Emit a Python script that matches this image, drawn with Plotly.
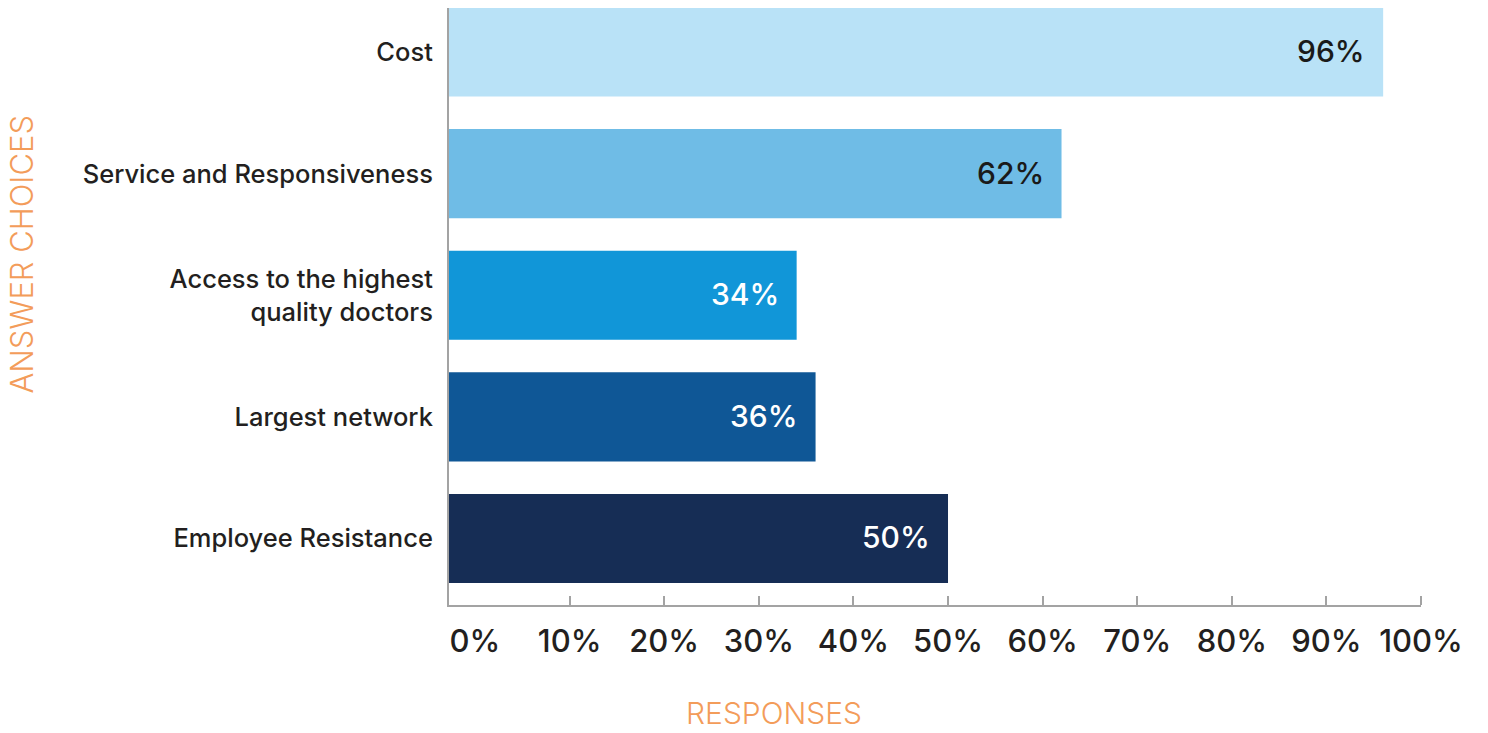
import plotly.graph_objects as go

# Survey answers, top to bottom
categories = ["Cost", "Service and Responsiveness",
              "Access to the highest<br>quality doctors",
              "Largest network", "Employee Resistance"]
values = [96, 62, 34, 36, 50]
value_labels = ["96%", "62%", "34%", "36%", "50%"]
bar_colors = ["#b9e2f7", "#6fbce6", "#1196d8", "#0f5796", "#162d55"]
label_colors = ["#1a1a1a", "#1a1a1a", "#ffffff", "#ffffff", "#ffffff"]
tick_values = [0, 10, 20, 30, 40, 50, 60, 70, 80, 90, 100]
tick_labels = ["0%", "10%", "20%", "30%", "40%", "50%", "60%", "70%", "80%", "90%", "100%"]

X_START = -2.75  # bars grow out of the vertical axis line, just left of 0%
TEXT = "#231f20"
ORANGE = "#f39c5a"
AXIS = "#a3a3a3"
FONT = "Inter, Liberation Sans, Arial, sans-serif"

fig = go.Figure()
fig.add_trace(go.Bar(
    y=categories,
    x=[v - X_START for v in values],
    base=X_START,
    orientation="h",
    marker=dict(color=bar_colors, line=dict(width=0)),
    hoverinfo="skip",
))

# value labels at the inside end of each bar
for cat, v, lab, col in zip(categories, values, value_labels, label_colors):
    fig.add_annotation(x=v, y=cat, text=lab, showarrow=False,
                       xanchor="right", yanchor="middle", xshift=-16, yshift=1,
                       font=dict(family=FONT, size=30, color=col, weight=500))

fig.add_annotation(text="ANSWER CHOICES", xref="paper", yref="paper",
                   x=-0.4393, y=0.587, textangle=-90, showarrow=False,
                   xanchor="center", yanchor="middle",
                   font=dict(family=FONT, size=31, color=ORANGE, weight=300))
fig.add_annotation(text="RESPONSES", xref="paper", yref="paper",
                   x=0.334, y=-0.1809, showarrow=False,
                   xanchor="center", yanchor="middle",
                   font=dict(family=FONT, size=30, color=ORANGE, weight=300))

fig.update_layout(
    width=1488, height=733,
    margin=dict(l=449, r=67, t=8, b=128),
    paper_bgcolor="#ffffff", plot_bgcolor="#ffffff",
    showlegend=False,
    bargap=0.267,
    xaxis=dict(
        range=[X_START, 100], showgrid=False, zeroline=False,
        showline=True, linecolor=AXIS, linewidth=2,
        tickvals=tick_values, ticktext=tick_labels, ticks="",
        ticklabelstandoff=8,
        tickfont=dict(family=FONT, size=31, color=TEXT, weight=500),
        minor=dict(tickvals=tick_values[1:], ticks="inside", ticklen=9,
                   tickwidth=2, tickcolor=AXIS, showgrid=False),
        fixedrange=True,
    ),
    yaxis=dict(
        categoryorder="array", categoryarray=categories,
        range=[4.547, -0.362], showgrid=False, zeroline=False,
        showline=True, linecolor=AXIS, linewidth=2,
        ticks="", ticklabelstandoff=9,
        tickfont=dict(family=FONT, size=25.5, color=TEXT, weight=500),
        fixedrange=True,
    ),
)

fig.write_html("out.html", config={"displayModeBar": False})
